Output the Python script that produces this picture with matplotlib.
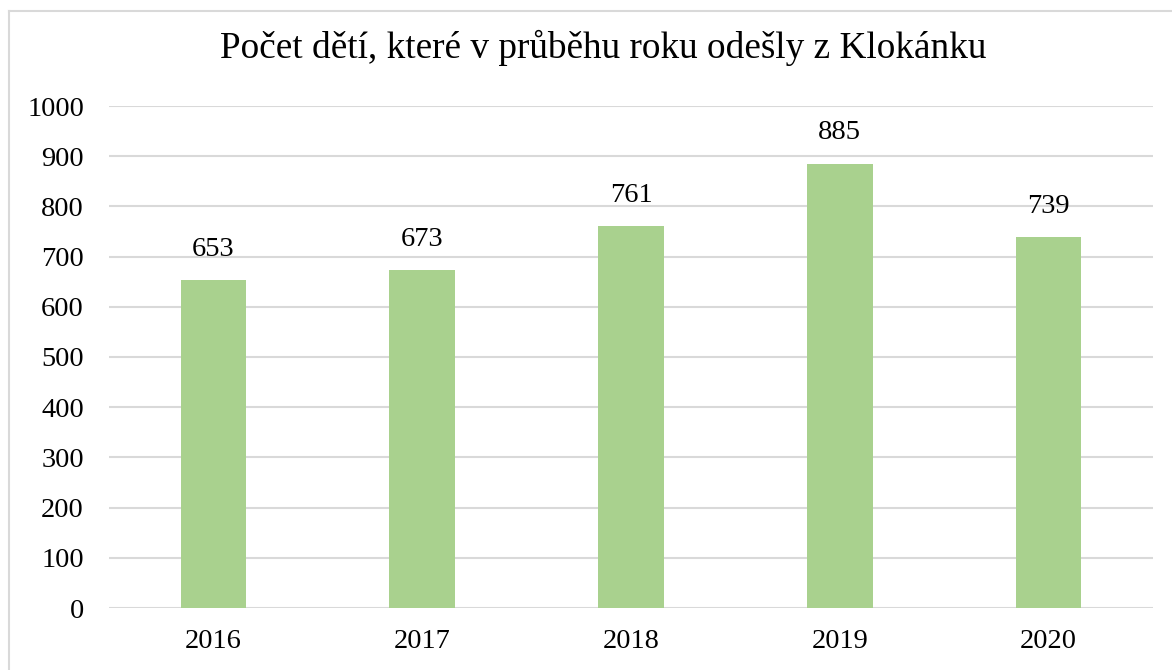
import matplotlib
matplotlib.use("Agg")
import matplotlib.pyplot as plt
from matplotlib.lines import Line2D

years = ["2016", "2017", "2018", "2019", "2020"]
counts = [653, 673, 761, 885, 739]
yticks = [0, 100, 200, 300, 400, 500, 600, 700, 800, 900, 1000]
title = "Počet dětí, které v průběhu roku odešly z Klokánku"

plt.rcParams['font.family'] = ['Liberation Serif', 'DejaVu Serif']

W, H = 1172, 670
fig = plt.figure(figsize=(W/100, H/100), dpi=100)
ax = fig.add_axes([109/W, 1-608/H, (1153-109)/W, (608-106)/H])

x = range(len(years))
ax.bar(x, counts, width=0.315, color="#A9D18E", zorder=3)
ax.set_xlim(-0.5, len(years)-0.5)
ax.set_ylim(0, 1000)
ax.set_yticks(yticks)
ax.set_xticks(list(x))
ax.set_xticklabels(years)
ax.grid(axis="y", color="#D9D9D9", linewidth=1.5, zorder=0)
for s in ax.spines.values():
    s.set_visible(False)
ax.tick_params(axis="both", length=0, labelsize=20.4, colors="black")
ax.tick_params(axis="y", pad=18)
ax.tick_params(axis="x", pad=15)

for xi, v in zip(x, counts):
    ax.annotate(str(v), (xi, v), xytext=(0, 17.5), textcoords="offset points",
                ha="center", va="baseline", fontsize=20.5)

fig.text(603/W, 1-48/H, title, ha="center", va="center", fontsize=26.8)

# chart border
fig.add_artist(Line2D([8.5/W, 8.5/W], [0, 1-10.5/H], transform=fig.transFigure,
                      color="#D9D9D9", linewidth=1.5))
fig.add_artist(Line2D([8.5/W, 1], [1-10.5/H, 1-10.5/H], transform=fig.transFigure,
                      color="#D9D9D9", linewidth=1.5))

fig.savefig("out.png", dpi=100, facecolor="white")
